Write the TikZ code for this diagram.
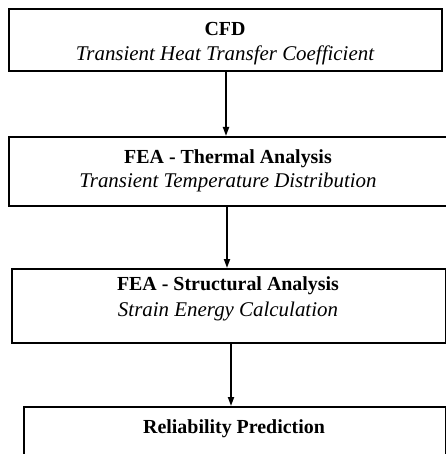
\documentclass[tikz,border=0pt]{standalone}
\usepackage{fontspec}
\setmainfont{Liberation Serif}
\usetikzlibrary{arrows.meta}
\begin{document}
\begin{tikzpicture}[x=1bp,y=-1bp,
  box/.style={draw=black,line width=1.8bp,rectangle,inner sep=0pt,anchor=north west},
  ttl/.style={font=\fontsize{20}{22}\selectfont\bfseries,anchor=base,inner sep=0pt},
  sub/.style={font=\fontsize{21}{22}\selectfont\itshape,anchor=base,inner sep=0pt},
  conn/.style={line width=1.8bp,-{Triangle[width=6bp,length=9bp]}}]
\useasboundingbox (0,0) rectangle (446,454);
\node[box,minimum width=433bp,minimum height=62bp] (b1) at (8,8) {};
\node[box,minimum width=450bp,minimum height=69bp] (b2) at (8,136) {};
\node[box,minimum width=434bp,minimum height=74bp] (b3) at (11,268) {};
\node[box,minimum width=422bp,minimum height=80bp] (b4) at (23,406) {};
\node[ttl] (t1) at (225,36) {CFD};
\node[sub] (s1) at (225,61) {Transient Heat Transfer Coefficient};
\node[ttl] (t2) at (228,164) {FEA - Thermal Analysis};
\node[sub] (s2) at (228,188) {Transient Temperature Distribution};
\node[ttl] (t3) at (228,290) {FEA - Structural Analysis};
\node[sub] (s3) at (228,316) {Strain Energy Calculation};
\node[ttl] (t4) at (234,433) {Reliability Prediction};
\draw[conn] (b1.south -| 226,0) -- (b2.north -| 226,0);
\draw[conn] (b2.south -| 227,0) -- (b3.north -| 227,0);
\draw[conn] (b3.south -| 231,0) -- (b4.north -| 231,0);
\end{tikzpicture}
\end{document}
